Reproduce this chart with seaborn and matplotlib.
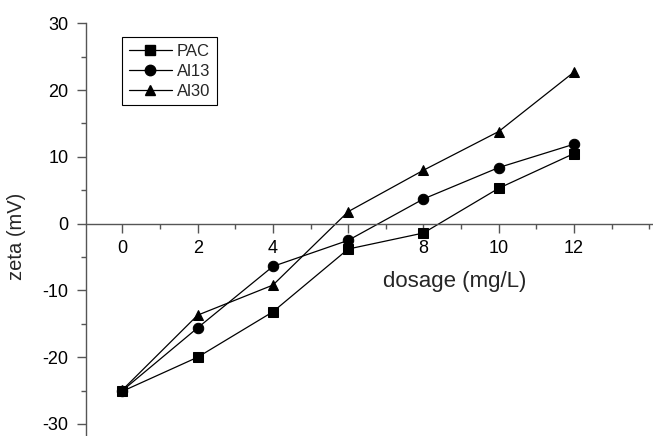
import matplotlib
matplotlib.use("Agg")
import matplotlib.pyplot as plt
from matplotlib.ticker import MultipleLocator
from matplotlib.lines import Line2D
import numpy as np
import pandas as pd
import seaborn as sns

dosage = [0, 2, 4, 6, 8, 10, 12]
pac = [-25.1, -20.0, -13.2, -3.8, -1.4, 5.3, 10.5]
al13 = [-25.0, -15.6, -6.4, -2.5, 3.7, 8.4, 11.9]
al30 = [-24.9, -13.7, -9.2, 1.8, 8.0, 13.8, 22.7]
series_names = ["PAC", "Al13", "Al30"]
x_ticks = [0, 2, 4, 6, 8, 10, 12]
y_ticks = [-30, -20, -10, 0, 10, 20, 30]

df = pd.concat([
    pd.DataFrame({"dosage": dosage, "zeta": vals, "series": name})
    for name, vals in zip(series_names, [pac, al13, al30])
], ignore_index=True)

sns.set_style("white")
plt.rcParams["font.family"] = ["Liberation Sans", "DejaVu Sans"]
plt.rcParams["axes.unicode_minus"] = False

W, H = 653, 436
fig = plt.figure(figsize=(W / 100, H / 100), dpi=100)
ax = fig.add_axes([86 / W, 0, 1 - 86 / W, 413 / H])

sns.lineplot(data=df, x="dosage", y="zeta", style="series",
             markers={"PAC": "s", "Al13": "o", "Al30": "^"},
             dashes=False, color="black", linewidth=0.9,
             markersize=7.5, markeredgecolor="black", ax=ax, legend=False)

ax.set_xlim(-0.967, 14.1)
ax.set_ylim(-31.8, 30.05)

spine_c = "#555555"
ax.spines["top"].set_visible(False)
ax.spines["right"].set_visible(False)
ax.spines["bottom"].set_position(("data", 0))
for s in ("left", "bottom"):
    ax.spines[s].set_color(spine_c)
    ax.spines[s].set_linewidth(1.0)

ax.set_xticks(x_ticks)
ax.set_yticks(y_ticks)
ax.xaxis.set_minor_locator(MultipleLocator(1))
ax.yaxis.set_minor_locator(MultipleLocator(5))
ax.tick_params(axis="both", which="major", direction="out", length=6.5,
               width=1.0, color=spine_c, labelsize=13, labelcolor="black",
               bottom=True, left=True)
ax.tick_params(axis="both", which="minor", direction="out", length=3.6,
               width=1.0, color=spine_c, bottom=True, left=True)
ax.tick_params(axis="x", which="major", pad=5)
ax.tick_params(axis="y", which="major", pad=6)

ax.set_xlabel("")
ax.set_ylabel("zeta (mV)", fontsize=14.5)
ax.yaxis.set_label_coords(-0.106, 0.484)
ax.text(0.651, 0.373, "dosage (mg/L)", transform=ax.transAxes,
        ha="center", va="center", fontsize=16)

handles = [Line2D([], [], color="black", linewidth=0.9, marker=m,
                  markersize=7.5, markeredgecolor="black")
           for m in ["s", "o", "^"]]
leg = ax.legend(handles, series_names, loc="upper left",
                bbox_to_anchor=((122 - 86) / 567, (436 - 37) / 413),
                fontsize=12, frameon=True, fancybox=False, framealpha=1,
                edgecolor="black", handlelength=2.6, handletextpad=0.3,
                borderpad=0.4, labelspacing=0.3, borderaxespad=0)
leg.get_frame().set_linewidth(0.8)

fig.savefig("out.png", dpi=100)
